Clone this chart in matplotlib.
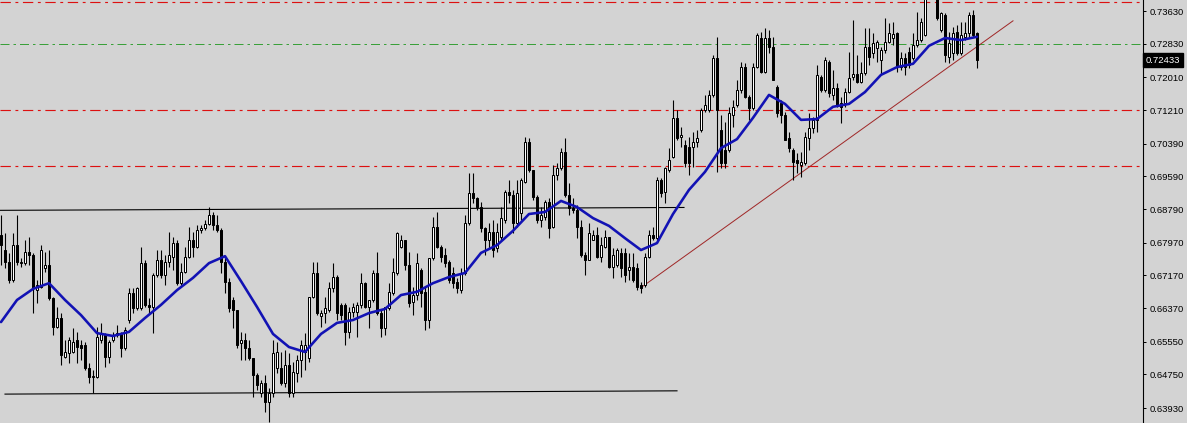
import numpy as np
import matplotlib
matplotlib.use("Agg")
import matplotlib.pyplot as plt
from matplotlib.transforms import blended_transform_factory

# ---------------- data (prices) ----------------
opens = [
 0.6816, 0.6779, 0.6750, 0.6706, 0.6791, 0.6747, 0.6747, 0.6774, 0.6767, 0.6681,
 0.6689, 0.6735, 0.6742, 0.6662, 0.6591, 0.6613, 0.6518, 0.6527, 0.6530, 0.6559,
 0.6547, 0.6547, 0.6491, 0.6469, 0.6469, 0.6559, 0.6571, 0.6518, 0.6559, 0.6571,
 0.6576, 0.6540, 0.6608, 0.6674, 0.6637, 0.6637, 0.6747, 0.6645, 0.6640, 0.6718,
 0.6755, 0.6718, 0.6750, 0.6762, 0.6796, 0.6698, 0.6725, 0.6762, 0.6804, 0.6786,
 0.6828, 0.6833, 0.6843, 0.6865, 0.6840, 0.6828, 0.6750, 0.6701, 0.6657, 0.6633,
 0.6552, 0.6559, 0.6540, 0.6515, 0.6474, 0.6430, 0.6454, 0.6408, 0.6430, 0.6491,
 0.6491, 0.6454, 0.6498, 0.6430, 0.6479, 0.6510, 0.6530, 0.6515, 0.6664, 0.6723,
 0.6618, 0.6625, 0.6633, 0.6686, 0.6713, 0.6645, 0.6645, 0.6579, 0.6628, 0.6628,
 0.6645, 0.6698, 0.6640, 0.6657, 0.6723, 0.6625, 0.6588, 0.6637, 0.6674, 0.6723,
 0.6786, 0.6804, 0.6742, 0.6652, 0.6669, 0.6730, 0.6676, 0.6608, 0.6760, 0.6835,
 0.6786, 0.6767, 0.6750, 0.6723, 0.6701, 0.6681, 0.6723, 0.6845, 0.6918, 0.6906,
 0.6884, 0.6833, 0.6804, 0.6823, 0.6784, 0.6811, 0.6852, 0.6921, 0.6913, 0.6845,
 0.6870, 0.6945, 0.7043, 0.6975, 0.6909, 0.6852, 0.6860, 0.6896, 0.6835, 0.6962,
 0.6980, 0.7018, 0.6913, 0.6882, 0.6877, 0.6835, 0.6767, 0.6755, 0.6804, 0.6816,
 0.6762, 0.6786, 0.6811, 0.6737, 0.6742, 0.6772, 0.6772, 0.6730, 0.6737, 0.6735,
 0.6694, 0.6694, 0.6762, 0.6816, 0.6808, 0.6950, 0.6921, 0.6975, 0.7006, 0.7102,
 0.7055, 0.7036, 0.7031, 0.7031, 0.7043, 0.7072, 0.7121, 0.7121, 0.7158, 0.7248,
 0.7072, 0.7023, 0.7023, 0.7109, 0.7133, 0.7170, 0.7226, 0.7153, 0.7126, 0.7226,
 0.7297, 0.7214, 0.7297, 0.7275, 0.7177, 0.7138, 0.7109, 0.7053, 0.7023, 0.6999,
 0.6987, 0.6992, 0.7053, 0.7077, 0.7097, 0.7202, 0.7170, 0.7238, 0.7158, 0.7175,
 0.7138, 0.7138, 0.7165, 0.7202, 0.7209, 0.7190, 0.7212, 0.7275, 0.7260, 0.7273,
 0.7243, 0.7268, 0.7287, 0.7297, 0.7309, 0.7226, 0.7248, 0.7263, 0.7248, 0.7280,
 0.7292, 0.7304, 0.7395, 0.7420, 0.7402, 0.7317, 0.7353, 0.7251, 0.7260, 0.7312,
 0.7260, 0.7300, 0.7309, 0.7353, 0.7309,
]
highs = [
 0.6865, 0.6821, 0.6772, 0.6821, 0.6865, 0.6760, 0.6804, 0.6811, 0.6772, 0.6706,
 0.6791, 0.6774, 0.6779, 0.6664, 0.6640, 0.6625, 0.6559, 0.6566, 0.6588, 0.6579,
 0.6559, 0.6554, 0.6503, 0.6486, 0.6591, 0.6601, 0.6576, 0.6559, 0.6579, 0.6596,
 0.6579, 0.6591, 0.6686, 0.6686, 0.6689, 0.6786, 0.6755, 0.6662, 0.6723, 0.6779,
 0.6779, 0.6767, 0.6823, 0.6811, 0.6804, 0.6747, 0.6786, 0.6835, 0.6823, 0.6840,
 0.6840, 0.6852, 0.6884, 0.6872, 0.6865, 0.6833, 0.6762, 0.6711, 0.6664, 0.6633,
 0.6579, 0.6576, 0.6559, 0.6515, 0.6479, 0.6461, 0.6474, 0.6442, 0.6559, 0.6554,
 0.6530, 0.6535, 0.6527, 0.6505, 0.6522, 0.6559, 0.6576, 0.6664, 0.6750, 0.6750,
 0.6633, 0.6664, 0.6701, 0.6747, 0.6718, 0.6650, 0.6650, 0.6640, 0.6650, 0.6652,
 0.6723, 0.6701, 0.6657, 0.6730, 0.6774, 0.6633, 0.6640, 0.6698, 0.6760, 0.6823,
 0.6816, 0.6804, 0.6774, 0.6689, 0.6772, 0.6735, 0.6689, 0.6760, 0.6860, 0.6872,
 0.6791, 0.6784, 0.6755, 0.6737, 0.6711, 0.6735, 0.6865, 0.6967, 0.6967, 0.6909,
 0.6896, 0.6835, 0.6845, 0.6852, 0.6845, 0.6884, 0.6926, 0.6950, 0.6926, 0.6950,
 0.6955, 0.7055, 0.7053, 0.6975, 0.6913, 0.6884, 0.6901, 0.6906, 0.6987, 0.6992,
 0.7028, 0.7053, 0.6943, 0.6906, 0.6889, 0.6852, 0.6774, 0.6845, 0.6828, 0.6835,
 0.6811, 0.6828, 0.6811, 0.6784, 0.6784, 0.6784, 0.6784, 0.6772, 0.6772, 0.6747,
 0.6701, 0.6772, 0.6828, 0.6835, 0.6957, 0.6955, 0.6982, 0.7028, 0.7146, 0.7121,
 0.7080, 0.7048, 0.7055, 0.7067, 0.7072, 0.7126, 0.7158, 0.7170, 0.7256, 0.7300,
 0.7109, 0.7092, 0.7129, 0.7146, 0.7194, 0.7238, 0.7236, 0.7158, 0.7236, 0.7309,
 0.7312, 0.7322, 0.7317, 0.7300, 0.7182, 0.7146, 0.7116, 0.7067, 0.7028, 0.7016,
 0.7018, 0.7067, 0.7114, 0.7104, 0.7231, 0.7207, 0.7251, 0.7243, 0.7219, 0.7187,
 0.7153, 0.7175, 0.7263, 0.7341, 0.7256, 0.7238, 0.7322, 0.7322, 0.7309, 0.7292,
 0.7275, 0.7346, 0.7334, 0.7336, 0.7312, 0.7263, 0.7260, 0.7275, 0.7309, 0.7361,
 0.7346, 0.7405, 0.7430, 0.7440, 0.7415, 0.7361, 0.7358, 0.7312, 0.7324, 0.7329,
 0.7336, 0.7336, 0.7361, 0.7365, 0.7312,
]
lows = [
 0.6742, 0.6735, 0.6698, 0.6701, 0.6742, 0.6737, 0.6742, 0.6742, 0.6625, 0.6650,
 0.6686, 0.6725, 0.6657, 0.6571, 0.6588, 0.6498, 0.6515, 0.6503, 0.6527, 0.6503,
 0.6510, 0.6486, 0.6454, 0.6430, 0.6466, 0.6552, 0.6493, 0.6503, 0.6554, 0.6566,
 0.6518, 0.6535, 0.6601, 0.6625, 0.6633, 0.6633, 0.6640, 0.6625, 0.6576, 0.6713,
 0.6711, 0.6694, 0.6737, 0.6730, 0.6694, 0.6694, 0.6723, 0.6760, 0.6762, 0.6784,
 0.6821, 0.6828, 0.6840, 0.6828, 0.6823, 0.6723, 0.6674, 0.6628, 0.6588, 0.6540,
 0.6510, 0.6510, 0.6510, 0.6420, 0.6437, 0.6420, 0.6383, 0.6359, 0.6420, 0.6479,
 0.6449, 0.6444, 0.6420, 0.6420, 0.6457, 0.6469, 0.6486, 0.6505, 0.6662, 0.6620,
 0.6591, 0.6601, 0.6628, 0.6676, 0.6608, 0.6608, 0.6547, 0.6564, 0.6615, 0.6566,
 0.6637, 0.6637, 0.6588, 0.6652, 0.6620, 0.6566, 0.6571, 0.6633, 0.6669, 0.6718,
 0.6784, 0.6730, 0.6640, 0.6620, 0.6657, 0.6640, 0.6584, 0.6588, 0.6755, 0.6784,
 0.6750, 0.6737, 0.6698, 0.6686, 0.6674, 0.6674, 0.6718, 0.6840, 0.6894, 0.6877,
 0.6823, 0.6767, 0.6784, 0.6762, 0.6774, 0.6804, 0.6845, 0.6894, 0.6821, 0.6835,
 0.6852, 0.6943, 0.6970, 0.6901, 0.6845, 0.6835, 0.6852, 0.6808, 0.6833, 0.6950,
 0.6975, 0.6909, 0.6865, 0.6870, 0.6808, 0.6762, 0.6718, 0.6755, 0.6804, 0.6760,
 0.6750, 0.6784, 0.6735, 0.6711, 0.6737, 0.6713, 0.6701, 0.6706, 0.6701, 0.6681,
 0.6674, 0.6689, 0.6760, 0.6804, 0.6804, 0.6909, 0.6894, 0.6970, 0.7004, 0.7048,
 0.7031, 0.6982, 0.6962, 0.6982, 0.7031, 0.7067, 0.7116, 0.7116, 0.7153, 0.6970,
 0.6980, 0.6980, 0.7018, 0.7080, 0.7129, 0.7163, 0.7150, 0.7097, 0.7121, 0.7224,
 0.7212, 0.7212, 0.7260, 0.7194, 0.7104, 0.7089, 0.7048, 0.7018, 0.6950, 0.6967,
 0.6957, 0.6987, 0.7023, 0.7065, 0.7067, 0.7165, 0.7165, 0.7153, 0.7146, 0.7129,
 0.7089, 0.7129, 0.7163, 0.7194, 0.7187, 0.7187, 0.7207, 0.7231, 0.7248, 0.7238,
 0.7207, 0.7260, 0.7285, 0.7280, 0.7214, 0.7219, 0.7207, 0.7224, 0.7243, 0.7275,
 0.7287, 0.7302, 0.7392, 0.7400, 0.7341, 0.7312, 0.7238, 0.7236, 0.7243, 0.7256,
 0.7256, 0.7292, 0.7297, 0.7300, 0.7224,
]
closes = [
 0.6791, 0.6750, 0.6706, 0.6791, 0.6750, 0.6750, 0.6774, 0.6767, 0.6686, 0.6694,
 0.6779, 0.6742, 0.6662, 0.6591, 0.6613, 0.6522, 0.6530, 0.6559, 0.6554, 0.6542,
 0.6540, 0.6491, 0.6469, 0.6471, 0.6566, 0.6576, 0.6518, 0.6554, 0.6571, 0.6576,
 0.6540, 0.6584, 0.6674, 0.6637, 0.6686, 0.6747, 0.6645, 0.6640, 0.6718, 0.6755,
 0.6718, 0.6750, 0.6767, 0.6796, 0.6698, 0.6725, 0.6762, 0.6804, 0.6786, 0.6828,
 0.6833, 0.6843, 0.6865, 0.6840, 0.6828, 0.6750, 0.6701, 0.6637, 0.6633, 0.6547,
 0.6559, 0.6540, 0.6515, 0.6474, 0.6449, 0.6454, 0.6408, 0.6430, 0.6527, 0.6530,
 0.6454, 0.6498, 0.6430, 0.6481, 0.6510, 0.6547, 0.6547, 0.6664, 0.6723, 0.6625,
 0.6625, 0.6637, 0.6686, 0.6713, 0.6625, 0.6620, 0.6579, 0.6628, 0.6640, 0.6645,
 0.6698, 0.6640, 0.6657, 0.6723, 0.6625, 0.6588, 0.6640, 0.6676, 0.6725, 0.6821,
 0.6804, 0.6742, 0.6650, 0.6669, 0.6747, 0.6674, 0.6608, 0.6760, 0.6835, 0.6786,
 0.6762, 0.6747, 0.6706, 0.6698, 0.6686, 0.6723, 0.6845, 0.6918, 0.6906, 0.6884,
 0.6833, 0.6804, 0.6823, 0.6779, 0.6823, 0.6857, 0.6921, 0.6913, 0.6845, 0.6918,
 0.6950, 0.7043, 0.6975, 0.6909, 0.6852, 0.6865, 0.6896, 0.6833, 0.6962, 0.6980,
 0.7018, 0.6913, 0.6882, 0.6877, 0.6835, 0.6767, 0.6755, 0.6821, 0.6816, 0.6762,
 0.6791, 0.6811, 0.6737, 0.6767, 0.6779, 0.6735, 0.6718, 0.6737, 0.6706, 0.6689,
 0.6686, 0.6762, 0.6816, 0.6808, 0.6950, 0.6918, 0.6980, 0.6999, 0.7102, 0.7053,
 0.7060, 0.6992, 0.6992, 0.7043, 0.7053, 0.7121, 0.7133, 0.7158, 0.7248, 0.7121,
 0.6992, 0.6992, 0.7114, 0.7129, 0.7170, 0.7226, 0.7153, 0.7126, 0.7226, 0.7304,
 0.7214, 0.7297, 0.7275, 0.7194, 0.7114, 0.7109, 0.7048, 0.7028, 0.6994, 0.6992,
 0.6994, 0.7055, 0.7077, 0.7097, 0.7207, 0.7170, 0.7243, 0.7163, 0.7175, 0.7133,
 0.7129, 0.7165, 0.7199, 0.7209, 0.7190, 0.7212, 0.7275, 0.7251, 0.7285, 0.7287,
 0.7268, 0.7287, 0.7309, 0.7307, 0.7226, 0.7248, 0.7226, 0.7231, 0.7280, 0.7292,
 0.7336, 0.7395, 0.7420, 0.7405, 0.7346, 0.7358, 0.7256, 0.7285, 0.7309, 0.7260,
 0.7304, 0.7309, 0.7353, 0.7304, 0.7243,
]

# moving average read every 4th bar
ma_index = list(range(0, 245, 4))
ma_values = [
 0.6603, 0.6657, 0.6684, 0.6698, 0.6657, 0.6620, 0.6576, 0.6569, 0.6579, 0.6613,
 0.6645, 0.6681, 0.6711, 0.6747, 0.6764, 0.6703, 0.6640, 0.6574, 0.6542, 0.6530,
 0.6574, 0.6601, 0.6608, 0.6625, 0.6635, 0.6669, 0.6677, 0.6698, 0.6713, 0.6723,
 0.6772, 0.6791, 0.6826, 0.6867, 0.6872, 0.6899, 0.6884, 0.6857, 0.6838, 0.6808,
 0.6779, 0.6796, 0.6867, 0.6926, 0.6970, 0.7028, 0.7050, 0.7102, 0.7158, 0.7136,
 0.7097, 0.7099, 0.7129, 0.7136, 0.7165, 0.7207, 0.7226, 0.7234, 0.7278, 0.7297,
 0.7292, 0.7300,
]

# horizontal levels
red_levels = [0.7386, 0.7121, 0.6985]
green_level = 0.7282

# drawn trend lines: (bar index, price) endpoints
upper_line = [(-0.25, 0.6876), (170.75, 0.6883)]
lower_line = [(1.0, 0.6427), (169.0, 0.6435)]
red_trend = [(160.25, 0.6689), (253.0, 0.7339)]

ytick_values = [0.73630, 0.72830, 0.72010, 0.71210, 0.70390, 0.69590, 0.68790,
                0.67970, 0.67170, 0.66370, 0.65550, 0.64750, 0.63930]
current_price = 0.72433

# ---------------- drawing ----------------
BG = "#d3d3d3"
W, H = 1187, 423
px = 72.0 / 100.0  # one pixel in points

fig = plt.figure(figsize=(W / 100, H / 100), dpi=100, facecolor=BG)
ax = fig.add_axes([0, 0, 1143 / W, 1])
ax.set_facecolor(BG)

o = np.array(opens); h = np.array(highs); l = np.array(lows); c = np.array(closes)
x = np.arange(len(o))

ax.set_xlim(-0.25, 285.5)
ax.set_ylim(0.63564, 0.73899)

# level lines
for lv in red_levels:
    ax.axhline(lv, color="#dd1010", lw=1.0 * px * 1.15, linestyle=(0, (9, 4, 2.5, 4)), zorder=1)
ax.axhline(green_level, color="#3aa03a", lw=1.0 * px, linestyle=(0, (9, 4, 2.5, 4)), zorder=1)

# trend lines
for seg, col, lw in [(upper_line, "black", 1.0), (lower_line, "black", 1.0), (red_trend, "#a02828", 0.9)]:
    ax.plot([seg[0][0], seg[1][0]], [seg[0][1], seg[1][1]], color=col, lw=lw * px * 1.1, zorder=2)

# wicks
ax.vlines(x, l, h, color="black", lw=1.0 * px * 1.1, zorder=3)

# bodies
up = c >= o
bottoms = np.minimum(o, c)
heights = np.maximum(np.abs(c - o), 0.00002)
ax.bar(x[up], heights[up], bottom=bottoms[up], width=0.5, color="white",
       edgecolor="black", linewidth=1.0 * px, zorder=4)
ax.bar(x[~up], heights[~up], bottom=bottoms[~up], width=0.5, color="black",
       edgecolor="black", linewidth=1.0 * px, zorder=4)

# moving average
ax.plot(ma_index, ma_values, color="#1212b4", lw=2.6 * px, zorder=5,
        solid_joinstyle="round", solid_capstyle="round")

# axes styling
for s in ["top", "left", "bottom"]:
    ax.spines[s].set_visible(False)
ax.spines["right"].set_color("black")
ax.spines["right"].set_linewidth(1.0 * px * 1.1)
ax.set_xticks([])
ax.yaxis.tick_right()
ax.set_yticks(ytick_values)
ax.set_yticklabels([f"{v:.5f}" for v in ytick_values])
ax.tick_params(axis="y", direction="out", length=3 * px, width=1.0 * px,
               pad=2.5, labelsize=6.8, colors="black")
for lab in ax.get_yticklabels():
    lab.set_family(["Liberation Sans", "DejaVu Sans"])

# current price tag
tr = blended_transform_factory(ax.transAxes, ax.transData)
ax.text(1.0025, current_price, f"{current_price:.5f}", transform=tr, ha="left", va="center",
        fontsize=6.8, family=["Liberation Sans", "DejaVu Sans"], color="white", clip_on=False,
        bbox=dict(boxstyle="square,pad=0.25", fc="black", ec="black"), zorder=10)

fig.savefig("out.png", dpi=100, facecolor=BG)
